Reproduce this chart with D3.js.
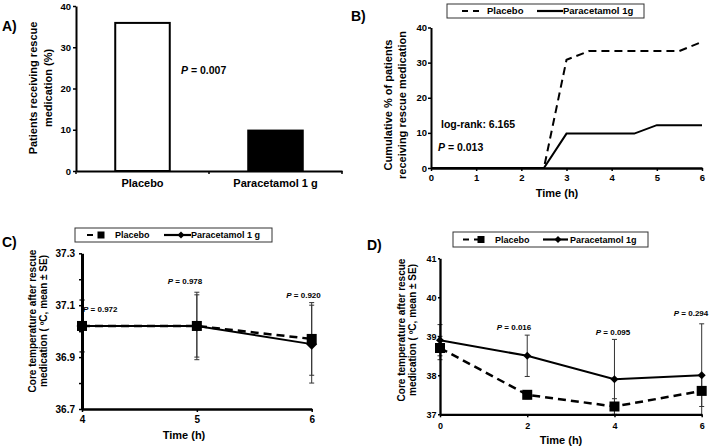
<!DOCTYPE html>
<html><head><meta charset="utf-8">
<script src="https://cdn.jsdelivr.net/npm/d3@7"></script>
<style>
body{margin:0;background:#fff;}
svg{display:block;font-family:"Liberation Sans",Arial,sans-serif;font-weight:bold;}
</style></head><body>
<svg id="c" width="709" height="448"></svg>
<script>
// ---------- DATA ----------
// Panel A
const categoriesA = ["Placebo", "Paracetamol 1 g"];
const rescueA = [35.9, 9.8];
const yTicksA = [0, 10, 20, 30, 40];
// Panel B (cumulative %)
const timesB = [0, 2.5, 3, 3.5, 4.5, 5, 5.5, 6];
const placeboB = [0, 0, 30.8, 33.3, 33.3, 33.3, 33.3, 35.9];
const paraB = [0, 0, 9.8, 9.8, 9.8, 12.2, 12.2, 12.2];
const xTicksB = [0, 1, 2, 3, 4, 5, 6];
const yTicksB = [0, 10, 20, 30, 40];
// Panel C
const timesC = [4, 5, 6];
const placeboC = [37.02, 37.02, 36.97];
const paraC = [37.02, 37.02, 36.95];
const placeboSEC = [0.1, 0.13, 0.14];
const paraSEC = [0.1, 0.12, 0.15];
const pValuesC = ["0.972", "0.978", "0.920"];
const yTicksC = [36.7, 36.8, 36.9, 37.0, 37.1, 37.2, 37.3];
const yLabelsC = [36.7, 36.9, 37.1, 37.3];
// Panel D
const timesD = [0, 2, 4, 6];
const placeboD = [38.7, 37.5, 37.2, 37.6];
const paraD = [38.9, 38.5, 37.9, 38.0];
const placeboSED = [0.3, 0.1, 0.2, 0.4];
const paraSED = [0.4, 0.53, 1.02, 1.32];
const pValuesD = ["0.016", "0.095", "0.294"];
const yTicksD = [37, 38, 39, 40, 41];

// ---------- HELPERS ----------
const svg = d3.select("#c");
function styleAxis(g, size, width) {
  g.attr("font-family", null).attr("font-size", null);
  g.selectAll("text").attr("font-size", size).attr("fill", "#000").attr("font-weight", "bold");
  g.select(".domain").attr("stroke", "#000").attr("stroke-width", width);
  g.selectAll(".tick line").attr("stroke", "#000").attr("stroke-width", 1.5);
}
function yTitle(lines, xs, cy, size) {
  lines.forEach((t, i) => {
    svg.append("text").attr("transform", `translate(${xs[i]},${cy}) rotate(-90)`)
      .attr("text-anchor", "middle").attr("dy", "0.35em").attr("font-size", size).text(t);
  });
}
function pText(x, y, val, size, anchor) {
  const t = svg.append("text").attr("x", x).attr("y", y).attr("font-size", size).attr("text-anchor", anchor || "start");
  t.append("tspan").attr("font-style", "italic").text("P");
  t.append("tspan").text(" = " + val);
  return t;
}
const diamond = r => `M0,${-r}L${r},0L0,${r}L${-r},0Z`;
function legend(x, y, w, h, cfg, labels, markers, size) {
  const g = svg.append("g").attr("transform", `translate(${x},${y})`);
  g.append("rect").attr("width", w).attr("height", h).attr("fill", "#fff").attr("stroke", "#333").attr("stroke-width", 1);
  const cy = h / 2;
  cfg.forEach((c, i) => {
    g.append("line").attr("x1", c.l0).attr("x2", c.l1).attr("y1", cy).attr("y2", cy)
      .attr("stroke", "#000").attr("stroke-width", 2.2).attr("stroke-dasharray", i === 0 ? "6,5" : null);
    if (markers) {
      if (i === 0) g.append("rect").attr("x", c.m - 3.5).attr("y", cy - 3.5).attr("width", 7).attr("height", 7).attr("fill", "#000");
      else g.append("path").attr("d", diamond(3.5)).attr("transform", `translate(${c.m},${cy})`).attr("fill", "#000");
    }
    g.append("text").attr("x", c.t).attr("y", cy).attr("dy", "0.36em").attr("font-size", size).text(labels[i]);
  });
}
function errBars(g, xs, vals, ses, xsc, ysc) {
  vals.forEach((v, i) => {
    const x = xsc(xs[i]), y0 = ysc(v - ses[i]), y1 = ysc(v + ses[i]);
    g.append("line").attr("x1", x).attr("x2", x).attr("y1", y0).attr("y2", y1).attr("stroke", "#333").attr("stroke-width", 1);
    [y0, y1].forEach(yy => g.append("line").attr("x1", x - 2.5).attr("x2", x + 2.5).attr("y1", yy).attr("y2", yy).attr("stroke", "#333").attr("stroke-width", 1));
  });
}

// ---------- PANEL A ----------
svg.append("text").attr("x", 2).attr("y", 31).attr("font-size", 14).text("A)");
const xA = d3.scaleBand().domain(categoriesA).range([76, 342]);
const yA = d3.scaleLinear().domain([0, 40]).range([171, 6]);
svg.append("g").selectAll("rect").data(rescueA).join("rect")
  .attr("x", (d, i) => xA(categoriesA[i]) + xA.bandwidth() * 0.295)
  .attr("width", xA.bandwidth() * 0.41)
  .attr("y", d => yA(d)).attr("height", d => yA(0) - yA(d))
  .attr("fill", (d, i) => i === 0 ? "#fff" : "#000").attr("stroke", "#000").attr("stroke-width", 2);
const gAy = svg.append("g").attr("transform", "translate(76,0)")
  .call(d3.axisLeft(yA).tickValues(yTicksA).tickSize(3).tickPadding(2).tickSizeOuter(0));
styleAxis(gAy, 9.5, 2);
const gAx = svg.append("g").attr("transform", "translate(0,171)")
  .call(d3.axisBottom(xA).tickSize(0).tickPadding(8).tickSizeOuter(0));
styleAxis(gAx, 11, 2);
[xA.range()[0], xA(categoriesA[1]), xA.range()[1]].forEach(v =>
  gAx.append("line").attr("x1", v).attr("x2", v).attr("y1", 0).attr("y2", 3).attr("stroke", "#000").attr("stroke-width", 1.5));
yTitle(["Patients receiving rescue", "medication (%)"], [33, 48], 88, 11);
pText(181, 74, "0.007", 10.5);

// ---------- PANEL B ----------
svg.append("text").attr("x", 351).attr("y", 21).attr("font-size", 14).text("B)");
const xB = d3.scaleLinear().domain([0, 6]).range([431, 702]);
const yB = d3.scaleLinear().domain([0, 40]).range([168, 27.5]);
const lineB = d3.line().x((d, i) => xB(timesB[i])).y(d => yB(d));
svg.append("path").attr("d", lineB(placeboB)).attr("fill", "none").attr("stroke", "#000").attr("stroke-width", 2).attr("stroke-dasharray", "8,5");
svg.append("path").attr("d", lineB(paraB)).attr("fill", "none").attr("stroke", "#000").attr("stroke-width", 2);
const gBy = svg.append("g").attr("transform", "translate(431,0)")
  .call(d3.axisLeft(yB).tickValues(yTicksB).tickSize(3).tickPadding(1).tickSizeOuter(0));
styleAxis(gBy, 9.5, 2);
const gBx = svg.append("g").attr("transform", "translate(0,168)")
  .call(d3.axisBottom(xB).tickValues(xTicksB).tickFormat(d3.format("d")).tickSize(3).tickPadding(3).tickSizeOuter(0));
styleAxis(gBx, 9.5, 2.6);
svg.append("text").attr("x", 557).attr("y", 197).attr("text-anchor", "middle").attr("font-size", 11).text("Time (h)");
yTitle(["Cumulative % of patients", "receiving rescue medication"], [388, 402], 105, 11);
svg.append("text").attr("x", 441).attr("y", 128).attr("font-size", 10.5).text("log-rank: 6.165");
pText(438, 151, "0.013", 10.5);
legend(447, 4, 197, 14, [{l0: 15, l1: 35, t: 40}, {l0: 90, l1: 116, t: 116}], ["Placebo", "Paracetamol 1g"], false, 9.5);

// ---------- PANEL C ----------
svg.append("text").attr("x", 2).attr("y", 247).attr("font-size", 14).text("C)");
const xC = d3.scaleLinear().domain([4, 6]).range([82, 311.7]);
const yC = d3.scaleLinear().domain([36.7, 37.3]).range([409, 253.3]);
svg.append("clipPath").attr("id", "clipC").append("rect").attr("x", 70).attr("y", 253).attr("width", 260).attr("height", 156);
const pC = svg.append("g").attr("clip-path", "url(#clipC)");
errBars(pC, timesC, placeboC, placeboSEC, xC, yC);
errBars(pC, timesC, paraC, paraSEC, xC, yC);
const lineC = d3.line().x((d, i) => xC(timesC[i])).y(d => yC(d));
pC.append("path").attr("d", lineC(placeboC)).attr("fill", "none").attr("stroke", "#000").attr("stroke-width", 2.5).attr("stroke-dasharray", "8,5");
pC.append("path").attr("d", lineC(paraC)).attr("fill", "none").attr("stroke", "#000").attr("stroke-width", 2);
const gCy = svg.append("g").attr("transform", "translate(82,0)")
  .call(d3.axisLeft(yC).tickValues(yTicksC).tickFormat(d => yLabelsC.some(v => Math.abs(v - d) < 1e-6) ? d3.format(".1f")(d) : "").tickSize(3).tickPadding(4).tickSizeOuter(0));
styleAxis(gCy, 10, 3);
const gCx = svg.append("g").attr("transform", "translate(0,409)")
  .call(d3.axisBottom(xC).tickValues(timesC).tickFormat(d3.format("d")).tickSize(3).tickPadding(4).tickSizeOuter(0));
styleAxis(gCx, 10, 2.3);
svg.append("g").selectAll("path").data(paraC).join("path").attr("d", diamond(5.5))
  .attr("transform", (d, i) => `translate(${xC(timesC[i])},${yC(d)})`).attr("fill", "#000");
svg.append("g").selectAll("rect").data(placeboC).join("rect")
  .attr("x", (d, i) => xC(timesC[i]) - 5).attr("y", d => yC(d) - 5).attr("width", 10).attr("height", 10).attr("fill", "#000");
svg.append("text").attr("x", 184).attr("y", 439).attr("text-anchor", "middle").attr("font-size", 11).text("Time (h)");
yTitle(["Core temperature after rescue", "medication ( \u00BAC, mean \u00B1 SE)"], [32, 43.5], 321, 10);
pText(83, 312, pValuesC[0], 8, "start");
pText(185, 283.5, pValuesC[1], 8, "middle");
pText(303.5, 298, pValuesC[2], 8, "middle");
legend(75, 228, 197, 14, [{l0: 12, l1: 33, m: 26, t: 40}, {l0: 89, l1: 116, m: 106, t: 116}], ["Placebo", "Paracetamol 1 g"], true, 9);

// ---------- PANEL D ----------
svg.append("text").attr("x", 367).attr("y", 250).attr("font-size", 14).text("D)");
const xD = d3.scaleLinear().domain([0, 6]).range([440, 701.7]);
const yD = d3.scaleLinear().domain([37, 41]).range([414.3, 258.3]);
svg.append("clipPath").attr("id", "clipD").append("rect").attr("x", 430).attr("y", 258).attr("width", 279).attr("height", 156.3);
const pD = svg.append("g").attr("clip-path", "url(#clipD)");
errBars(pD, timesD, placeboD, placeboSED, xD, yD);
errBars(pD, timesD, paraD, paraSED, xD, yD);
const lineDp = d3.line().x((d, i) => xD(timesD[i])).y(d => yD(d));
pD.append("path").attr("d", lineDp(placeboD)).attr("fill", "none").attr("stroke", "#000").attr("stroke-width", 2.5).attr("stroke-dasharray", "8,5");
pD.append("path").attr("d", lineDp(paraD)).attr("fill", "none").attr("stroke", "#000").attr("stroke-width", 2);
const gDy = svg.append("g").attr("transform", "translate(440,0)")
  .call(d3.axisLeft(yD).tickValues(yTicksD).tickFormat(d3.format("d")).tickSize(2).tickPadding(1.5).tickSizeOuter(0));
styleAxis(gDy, 9, 2.3);
const gDx = svg.append("g").attr("transform", "translate(0,414.3)")
  .call(d3.axisBottom(xD).tickValues(timesD).tickFormat(d3.format("d")).tickSize(3).tickPadding(5).tickSizeOuter(0));
styleAxis(gDx, 9, 2.3);
svg.append("g").selectAll("path").data(paraD).join("path").attr("d", diamond(4))
  .attr("transform", (d, i) => `translate(${xD(timesD[i])},${yD(d)})`).attr("fill", "#000");
svg.append("g").selectAll("rect").data(placeboD).join("rect")
  .attr("x", (d, i) => xD(timesD[i]) - 5).attr("y", d => yD(d) - 5).attr("width", 10).attr("height", 10).attr("fill", "#000");
svg.append("text").attr("x", 561).attr("y", 444).attr("text-anchor", "middle").attr("font-size", 11).text("Time (h)");
yTitle(["Core temperature after rescue", "medication ( \u00BAC, mean \u00B1 SE)"], [401.5, 412.5], 330, 10);
pText(514, 330, pValuesD[0], 8, "middle");
pText(613, 335, pValuesD[1], 8, "middle");
pText(691, 316, pValuesD[2], 8, "middle");
legend(453, 232, 195, 15, [{l0: 10, l1: 32, m: 28, t: 42}, {l0: 90, l1: 115, m: 105, t: 117}], ["Placebo", "Paracetamol 1g"], true, 9);
</script>
</body></html>
